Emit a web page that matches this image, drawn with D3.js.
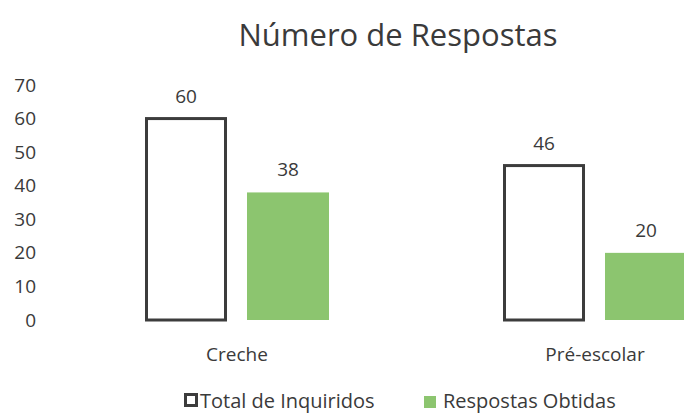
<!DOCTYPE html>
<html>
<head>
<meta charset="utf-8">
<script src="https://cdn.jsdelivr.net/npm/d3@7"></script>
<style>
  body { margin: 0; background: #fff; }
  text { font-family: "Open Sans", sans-serif; fill: #3a3a3a; }
</style>
</head>
<body>
<div id="chart"></div>
<script>
// data
const categories = ["Creche", "Pré-escolar"];
const series = ["Total de Inquiridos", "Respostas Obtidas"];
const totalInquiridos = [60, 46];
const respostasObtidas = [38, 20];
const yTicks = [0, 10, 20, 30, 40, 50, 60, 70];

const width = 684, height = 419;

const svg = d3.select("#chart")
    .append("svg")
    .attr("width", width)
    .attr("height", height);

// scales (plot runs past the right edge, like the cropped original)
const x = d3.scaleBand()
    .domain(categories)
    .range([58, 774])
    .paddingInner(0)
    .paddingOuter(0);

const x1 = d3.scaleBand()
    .domain(series)
    .range([87, x.bandwidth() - 87])
    .paddingInner(0.196);

const y = d3.scaleLinear()
    .domain([0, 70])
    .range([320, 85]);

// title
svg.append("text")
    .attr("x", 398)
    .attr("y", 46)
    .attr("text-anchor", "middle")
    .style("font-size", "31px")
    .text("Número de Respostas");

// y axis labels
const yAxis = d3.axisLeft(y).tickValues(yTicks).tickSize(0).tickPadding(0);
svg.append("g")
    .attr("transform", "translate(36,0)")
    .call(yAxis)
    .call(g => g.select(".domain").remove())
    .call(g => g.selectAll("text")
        .style("font-size", "19px")
        .style("font-family", "'Open Sans', sans-serif")
        .attr("fill", "#3a3a3a"));

// bars
const groups = svg.selectAll(".grp")
    .data(categories)
    .enter().append("g")
    .attr("class", "grp")
    .attr("transform", d => `translate(${x(d)},0)`);

groups.append("rect")
    .attr("x", x1(series[0]) + 1.5)
    .attr("y", (d, i) => y(totalInquiridos[i]))
    .attr("width", x1.bandwidth() - 3)
    .attr("height", (d, i) => y(0) - y(totalInquiridos[i]))
    .style("fill", "#fff")
    .style("stroke", "#3c3c3c")
    .style("stroke-width", 3);

groups.append("rect")
    .attr("x", x1(series[1]))
    .attr("y", (d, i) => y(respostasObtidas[i]))
    .attr("width", x1.bandwidth())
    .attr("height", (d, i) => y(0) - y(respostasObtidas[i]))
    .style("fill", "#8cc56f");

// value labels
groups.append("text")
    .attr("x", x1(series[0]) + x1.bandwidth() / 2)
    .attr("y", (d, i) => y(totalInquiridos[i]) - 16)
    .attr("text-anchor", "middle")
    .style("font-size", "19px")
    .text((d, i) => totalInquiridos[i]);

groups.append("text")
    .attr("x", x1(series[1]) + x1.bandwidth() / 2)
    .attr("y", (d, i) => y(respostasObtidas[i]) - 16)
    .attr("text-anchor", "middle")
    .style("font-size", "19px")
    .text((d, i) => respostasObtidas[i]);

// category labels
svg.selectAll(".cat")
    .data(categories)
    .enter().append("text")
    .attr("class", "cat")
    .attr("x", d => x(d) + x.bandwidth() / 2 + (d === "Pré-escolar" ? 0 : 0))
    .attr("y", 361)
    .attr("text-anchor", "middle")
    .style("font-size", "19px")
    .text(d => d);

// legend
const legend = svg.append("g").attr("transform", "translate(184,408)");
legend.append("rect")
    .attr("x", 1.5).attr("y", -13.5).attr("width", 11).attr("height", 11)
    .style("fill", "#fff").style("stroke", "#3c3c3c").style("stroke-width", 3);
legend.append("text")
    .attr("x", 16).attr("y", 0)
    .style("font-size", "20px")
    .text(series[0]);
legend.append("rect")
    .attr("x", 240).attr("y", -12).attr("width", 12).attr("height", 12)
    .style("fill", "#8cc56f");
legend.append("text")
    .attr("x", 259).attr("y", 0)
    .style("font-size", "20px")
    .text(series[1]);
</script>
</body>
</html>
